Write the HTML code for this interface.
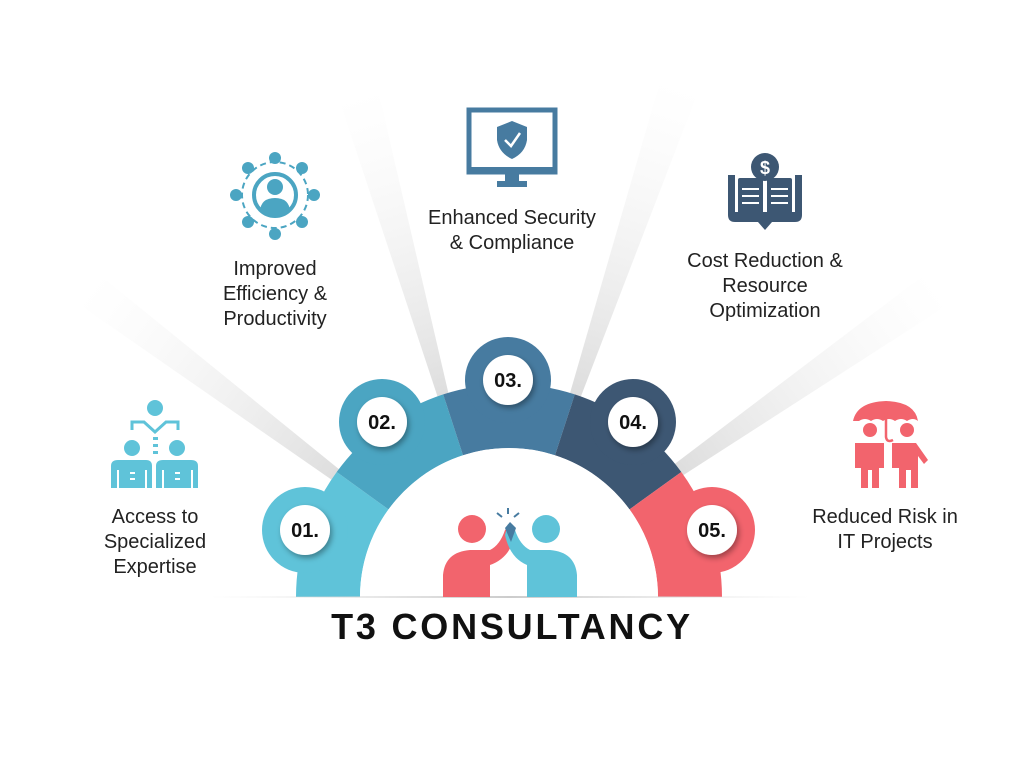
<!DOCTYPE html>
<html><head><meta charset="utf-8"><style>
html,body{margin:0;padding:0;background:#fff;}
svg{display:block;}
text{font-family:"Liberation Sans",sans-serif;}
</style></head><body>
<svg width="1024" height="768" viewBox="0 0 1024 768" xmlns="http://www.w3.org/2000/svg">
<defs>
<linearGradient id="rg1" gradientUnits="userSpaceOnUse" x1="509" y1="597" x2="90" y2="285"><stop offset="0.4" stop-color="#cfcfcf" stop-opacity="0.7"/><stop offset="1" stop-color="#eeeeee" stop-opacity="0"/></linearGradient>
<linearGradient id="rg2" gradientUnits="userSpaceOnUse" x1="509" y1="597" x2="355" y2="95"><stop offset="0.4" stop-color="#cfcfcf" stop-opacity="0.7"/><stop offset="1" stop-color="#eeeeee" stop-opacity="0"/></linearGradient>
<linearGradient id="rg3" gradientUnits="userSpaceOnUse" x1="509" y1="597" x2="680" y2="85"><stop offset="0.4" stop-color="#cfcfcf" stop-opacity="0.7"/><stop offset="1" stop-color="#eeeeee" stop-opacity="0"/></linearGradient>
<linearGradient id="rg4" gradientUnits="userSpaceOnUse" x1="509" y1="597" x2="940" y2="290"><stop offset="0.4" stop-color="#cfcfcf" stop-opacity="0.7"/><stop offset="1" stop-color="#eeeeee" stop-opacity="0"/></linearGradient>
<filter id="sh" x="-50%" y="-50%" width="200%" height="200%"><feDropShadow dx="2" dy="3" stdDeviation="3" flood-opacity="0.35"/></filter>
<linearGradient id="ln" x1="0" x2="1"><stop offset="0" stop-color="#ddd" stop-opacity="0"/><stop offset="0.5" stop-color="#ccc"/><stop offset="1" stop-color="#ddd" stop-opacity="0"/></linearGradient>
</defs>
<polygon points="340,470 332,480 80,305 96,272" fill="url(#rg1)"/>
<polygon points="450,400 440,404 340,102 378,90" fill="url(#rg2)"/>
<polygon points="578,404 568,400 660,82 698,92" fill="url(#rg3)"/>
<polygon points="682,476 672,466 928,272 946,306" fill="url(#rg4)"/>
<path d="M296,597 A213,213 0 0 1 336.7,472 L388.5,509.4 A149,149 0 0 0 360,597 Z" fill="#5fc3d9"/>
<path d="M336.7,472 A213,213 0 0 1 443.2,394.4 L463,455.3 A149,149 0 0 0 388.5,509.4 Z" fill="#4ba5c2"/>
<path d="M443.2,394.4 A213,213 0 0 1 574.8,394.4 L555,455.3 A149,149 0 0 0 463,455.3 Z" fill="#477ba0"/>
<path d="M574.8,394.4 A213,213 0 0 1 681.3,472 L629.5,509.4 A149,149 0 0 0 555,455.3 Z" fill="#3d5773"/>
<path d="M681.3,472 A213,213 0 0 1 722,597 L658,597 A149,149 0 0 0 629.5,509.4 Z" fill="#f2646d"/>
<circle cx="305" cy="530" r="43" fill="#5fc3d9"/>
<circle cx="382" cy="422" r="43" fill="#4ba5c2"/>
<circle cx="508" cy="380" r="43" fill="#477ba0"/>
<circle cx="633" cy="422" r="43" fill="#3d5773"/>
<circle cx="712" cy="530" r="43" fill="#f2646d"/>
<g filter="url(#sh)" fill="#fff">
<circle cx="305" cy="530" r="25"/><circle cx="382" cy="422" r="25"/><circle cx="508" cy="380" r="25"/><circle cx="633" cy="422" r="25"/><circle cx="712" cy="530" r="25"/>
</g>
<g font-weight="bold" font-size="20" fill="#111" text-anchor="middle">
<text x="305" y="537">01.</text><text x="382" y="429">02.</text><text x="508" y="387">03.</text><text x="633" y="429">04.</text><text x="712" y="537">05.</text>
</g>
<path d="M360,597 A149,149 0 0 1 658,597 Z" fill="#fff"/>
<rect x="210" y="596" width="600" height="2" fill="url(#ln)"/>
<circle cx="472" cy="529" r="14" fill="#f2646d"/>
<circle cx="546" cy="529" r="14" fill="#5fc3d9"/>
<path d="M443,597 L443,575 Q445,552 470,550 L490,550 Q500,545 505,530 L512,524 L515,535 Q510,558 490,565 L490,597 Z" fill="#f2646d"/>
<path d="M577,597 L577,575 Q575,552 550,550 L530,550 Q520,545 515,530 L508,524 L505,535 Q510,558 527,565 L527,597 Z" fill="#5fc3d9"/>
<path d="M505,528 L510,522 L516,528 L511,542 Z" fill="#477ba0"/>
<g stroke="#477ba0" stroke-width="2"><line x1="508" y1="508" x2="508" y2="514"/><line x1="497" y1="513" x2="502" y2="517"/><line x1="519" y1="513" x2="514" y2="517"/></g>
<text x="512" y="639" text-anchor="middle" font-weight="bold" font-size="36" letter-spacing="2.8" fill="#111">T3 CONSULTANCY</text>
<g font-size="20" fill="#222" text-anchor="middle">
<text x="155" y="523">Access to</text><text x="155" y="548">Specialized</text><text x="155" y="573">Expertise</text>
<text x="275" y="275">Improved</text><text x="275" y="300">Efficiency &amp;</text><text x="275" y="325">Productivity</text>
<text x="512" y="224">Enhanced Security</text><text x="512" y="249">&amp; Compliance</text>
<text x="765" y="267">Cost Reduction &amp;</text><text x="765" y="292">Resource</text><text x="765" y="317">Optimization</text>
<text x="885" y="523">Reduced Risk in</text><text x="885" y="548">IT Projects</text>
</g>
<g fill="#5fc3d9">
<circle cx="155" cy="408" r="8"/>
<path d="M132,430 L132,422 L144,422 L155,432 L166,422 L178,422 L178,430" fill="none" stroke="#5fc3d9" stroke-width="3"/>
<rect x="153" y="437" width="5" height="3"/><rect x="153" y="444" width="5" height="3"/><rect x="153" y="451" width="5" height="3"/>
<circle cx="132" cy="448" r="8"/><circle cx="177" cy="448" r="8"/>
<path d="M111,488 L111,466 Q111,460 118,460 L146,460 Q152,460 152,466 L152,488 Z"/>
<path d="M156,488 L156,466 Q156,460 163,460 L191,460 Q198,460 198,466 L198,488 Z"/>
</g>
<g fill="#fff"><rect x="130" y="472" width="5" height="2"/><rect x="130" y="478" width="5" height="2"/><rect x="175" y="472" width="5" height="2"/><rect x="175" y="478" width="5" height="2"/><rect x="117" y="470" width="2" height="18"/><rect x="145" y="470" width="2" height="18"/><rect x="162" y="470" width="2" height="18"/><rect x="191" y="470" width="2" height="18"/></g>
<g fill="#4ba5c2" stroke="#4ba5c2">
<circle cx="275" cy="195" r="33" fill="none" stroke-width="2" stroke-dasharray="6 4"/>
<circle cx="275" cy="195" r="21" fill="none" stroke-width="4"/>
<g stroke="none"><circle cx="275" cy="158" r="6"/><circle cx="275" cy="234" r="6"/><circle cx="236" cy="195" r="6"/><circle cx="314" cy="195" r="6"/><circle cx="248" cy="168" r="6"/><circle cx="302" cy="168" r="6"/><circle cx="248" cy="222" r="6"/><circle cx="302" cy="222" r="6"/>
<circle cx="275" cy="187" r="8"/><path d="M260,211 Q261,198 275,198 Q289,198 290,211 Q283,217 275,217 Q267,217 260,211Z"/></g>
</g>
<g fill="#477ba0">
<rect x="469" y="110" width="86" height="62" fill="none" stroke="#477ba0" stroke-width="5"/>
<rect x="469" y="167" width="86" height="7"/>
<rect x="505" y="174" width="14" height="8"/><rect x="497" y="181" width="30" height="6"/>
<path d="M497,127 L512,121 L527,127 L527,140 Q525,153 512,159 Q499,153 497,140 Z"/>
<path d="M505,140 L511,146 L520,133" fill="none" stroke="#fff" stroke-width="2.5"/>
</g>
<g fill="#3d5773">
<path d="M728,175 L728,215 Q728,222 735,222 L758,222 L765,230 L772,222 L795,222 Q802,222 802,215 L802,175 L795,175 L795,212 L735,212 L735,175 Z"/>
<rect x="738" y="178" width="25" height="36" rx="2"/><rect x="767" y="178" width="25" height="36" rx="2"/>
<circle cx="765" cy="167" r="14"/>
</g>
<text x="765" y="174" text-anchor="middle" font-size="18" font-weight="bold" fill="#fff">$</text>
<g fill="#fff"><rect x="742" y="188" width="17" height="2"/><rect x="742" y="195" width="17" height="2"/><rect x="742" y="202" width="17" height="2"/><rect x="771" y="188" width="17" height="2"/><rect x="771" y="195" width="17" height="2"/><rect x="771" y="202" width="17" height="2"/></g>
<g fill="#f2646d">
<path d="M853,421 Q857,402 886,401 Q915,402 918,421 Q913,417 907,421 Q901,417 895,421 Q889,417 883,421 Q877,417 871,421 Q865,417 859,421 Z"/>
<path d="M886,412 L886,437 Q887,443 893,440" fill="none" stroke="#f2646d" stroke-width="2.5"/>
<circle cx="870" cy="430" r="7"/><circle cx="907" cy="430" r="7"/>
<path d="M855,443 L884,443 L884,468 L879,468 L879,488 L872,488 L872,470 L868,470 L868,488 L861,488 L861,468 L855,468Z"/>
<path d="M892,443 L916,443 L928,460 L924,464 L918,456 L918,488 L911,488 L911,470 L906,470 L906,488 L899,488 L899,468 L892,468 Z"/>
</g>
</svg>
</body></html>
